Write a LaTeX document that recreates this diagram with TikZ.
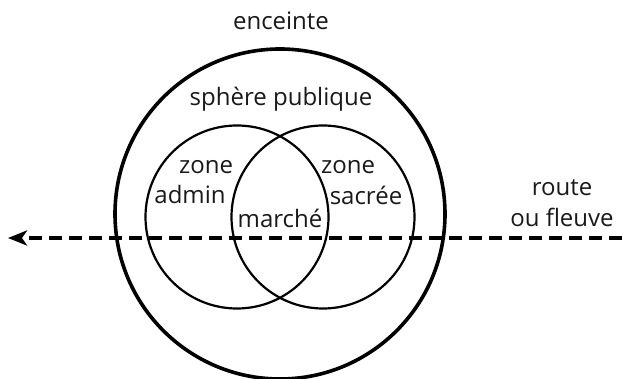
\documentclass[tikz,border=0pt]{standalone}
\usepackage{fontspec}
\setmainfont{Open Sans}
\usetikzlibrary{arrows.meta}
\begin{document}
\begin{tikzpicture}[x=1pt,y=-1pt,
  lbl/.style={inner sep=0pt, font=\fontsize{24}{28}\selectfont, text=black!90},
  outerring/.style={circle, draw, line width=3.6pt, inner sep=0pt, minimum size=330pt},
  zonering/.style={circle, draw, line width=2.2pt, inner sep=0pt, minimum size=183pt},
  roadline/.style={line width=3.4pt, dash pattern=on 13pt off 7pt, -{Stealth[length=19pt,width=15pt,inset=5pt]}}]
\useasboundingbox (0,0) rectangle (622,379);
\node[outerring] (enc) at (280,214) {};
\node[zonering] (admin) at (237,217) {};
\node[zonering] (sacred) at (323,217) {};
\coordinate (roadE) at (622,238);
\coordinate (roadW) at (8,238);
\draw[roadline] (roadE) -- (roadW);
\node[lbl] (tEnc) at (281,21) {enceinte};
\node[lbl] (tPub) at (281,99) {sphère publique};
\node[lbl] (tZa1) at (206,167) {zone};
\node[lbl] (tZa2) at (190,195) {admin};
\node[lbl] (tZs1) at (348,167) {zone};
\node[lbl] (tZs2) at (366,195) {sacrée};
\node[lbl] (tMar) at (280,218) {marché};
\node[lbl] (tR1) at (562,188) {route};
\node[lbl] (tR2) at (562,217) {ou fleuve};
\end{tikzpicture}
\end{document}
